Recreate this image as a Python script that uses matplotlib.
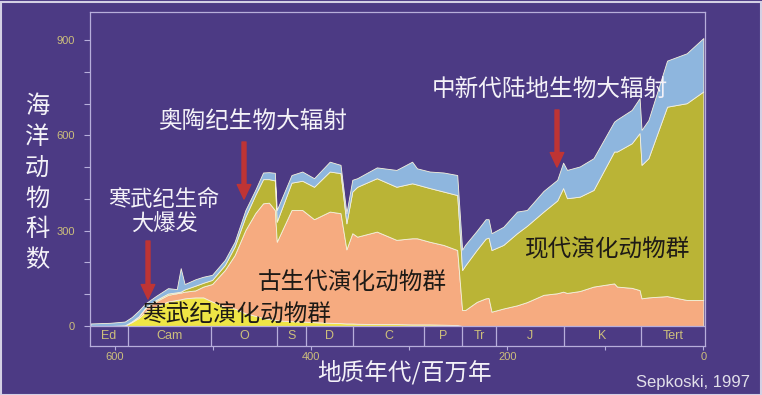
import numpy as np
import matplotlib
matplotlib.use('Agg')
import matplotlib.pyplot as plt
from matplotlib.patches import Rectangle

plt.rcParams['font.family'] = ['Liberation Sans', 'Noto Sans CJK SC', 'DejaVu Sans']
cjk = ['Noto Sans CJK SC', 'DejaVu Sans']

# age (Myr before present) and number of marine families per fauna
age = [625, 605, 590, 583, 576, 569, 558, 546, 537, 533, 529, 518, 510, 501,
       488, 478, 467, 457, 449, 443, 437, 435, 420, 409, 397, 381, 370, 364,
       358, 353, 333, 313, 297, 292, 279, 265, 251, 246, 243, 231, 222, 219,
       216, 204, 190, 180, 163, 149, 143, 139, 126, 112, 91, 88, 73, 65, 63,
       56, 37, 17, 0]
cambrian = [0, 0, 2, 12, 25, 45, 62, 77, 82, 84, 87, 90, 90, 77,
            61, 55, 40, 32, 25, 22, 20, 18, 15, 14, 12, 10, 9, 8,
            8, 7, 6, 6, 5, 5, 5, 4, 3, 0, 0, 0, 0, 0,
            0, 0, 0, 0, 0, 0, 0, 0, 0, 0, 0, 0, 0, 0, 0,
            0, 0, 0, 0]
paleozoic = [0, 0, 0, 2, 5, 11, 16, 21, 21, 21, 21, 22, 34, 55,
             115, 168, 262, 323, 361, 366, 345, 247, 350, 351, 324, 350, 346, 233,
             284, 274, 291, 265, 271, 271, 260, 251, 236, 50, 50, 76, 87, 88,
             45, 55, 65, 75, 98, 103, 108, 104, 110, 124, 134, 124, 120, 113, 87,
             90, 94, 82, 82]
modern = [0, 0, 0, 0, 0, 2, 4, 4, 3, 3, 7, 15, 12, 13,
          16, 27, 42, 57, 76, 74, 93, 63, 86, 92, 102, 126, 126, 82,
          131, 157, 168, 167, 173, 169, 169, 168, 173, 126, 140, 164, 188, 190,
          194, 200, 227, 240, 262, 292, 326, 298, 297, 304, 415, 425, 455, 494, 420,
          438, 596, 619, 656]
other = [8, 10, 12, 14, 18, 13, 13, 17, 10, 74, 17, 20, 19, 16,
         16, 15, 21, 16, 21, 22, 24, 37, 24, 29, 27, 31, 26, 32,
         37, 27, 34, 53, 68, 51, 52, 60, 63, 64, 65, 60, 61, 58,
         53, 57, 68, 50, 65, 65, 80, 89, 95, 100, 94, 101, 105, 110, 110,
         120, 145, 157, 168]

periods = ['Ed', 'Cam', 'O', 'S', 'D', 'C', 'P', 'Tr', 'J', 'K', 'Tert']
period_edges = [625.5, 587, 502, 435, 405, 357, 285, 246, 211, 142, 64, -1.7]

bg = '#4c3a84'
line_c = '#b7aedb'
khaki = '#cdbf7c'
fauna_colors = ['#efe545', '#f6ab80', '#bab436', '#8eb6de']

W, H = 762, 395
fig = plt.figure(figsize=(W / 100, H / 100), dpi=100, facecolor=bg)
ax = fig.add_axes([90 / W, 1 - 346 / H, 615 / W, 334 / H])
ax.set_facecolor(bg)

ax.stackplot(age, cambrian, paleozoic, modern, other, colors=fauna_colors,
             edgecolor='#f6f2dc', linewidth=0.6)

ax.set_xlim(period_edges[0], period_edges[-1])
ax.set_ylim(-63, 988)

# period band below the curves
ax.axhline(0, color=line_c, lw=0.9)
ax.vlines(period_edges[1:-1], -63, 0, color=line_c, lw=0.9)
for i, name in enumerate(periods):
    mid = (period_edges[i] + period_edges[i + 1]) / 2
    ax.text(mid, -31, name, ha='center', va='center', color=khaki, fontsize=9)

ax.set_yticks([0, 300, 600, 900])
ax.set_yticks(np.arange(0, 1000, 100), minor=True)
ax.set_xticks([600, 400, 200, 0])
ax.set_xticks([500, 300, 100], minor=True)
ax.tick_params(axis='y', which='both', length=4, width=0.8, color=line_c,
               labelcolor=khaki, labelsize=8, pad=7)
ax.tick_params(axis='x', which='both', length=3, width=0.8, color=line_c,
               labelcolor=khaki, labelsize=8, pad=1.5)
for s in ax.spines.values():
    s.set_color(line_c)
    s.set_linewidth(0.9)


def ft(x, y, s, **kw):
    fig.text(x / W, 1 - y / H, s, ha='center', va='center', **kw)


# red arrows
def arrow(x, y0, y1):
    ax.annotate('', xy=(x / W, 1 - y1 / H), xytext=(x / W, 1 - y0 / H),
                xycoords='figure fraction', textcoords='figure fraction',
                arrowprops=dict(arrowstyle='simple,head_width=0.75,head_length=0.8,tail_width=0.22',
                                color='#bf3434', mutation_scale=13, shrinkA=0, shrinkB=0))


arrow(148, 241, 299)
arrow(244, 142, 199)
arrow(557, 110, 167)

white = '#f4f2f8'
ft(164, 200, '寒武纪生命', color=white, fontsize=16, family=cjk)
ft(164, 223, '大爆发', color=white, fontsize=16, family=cjk)
ft(253, 121, '奥陶纪生物大辐射', color=white, fontsize=17, family=cjk)
ft(550, 89, '中新代陆地生物大辐射', color=white, fontsize=17, family=cjk)

dark = '#1e1a16'
ft(237, 315, '寒武纪演化动物群', color=dark, fontsize=17, family=cjk)
ft(352, 282, '古生代演化动物群', color=dark, fontsize=17, family=cjk)
ft(608, 250, '现代演化动物群', color=dark, fontsize=17, family=cjk)

ft(405, 372, '地质年代/百万年', color=white, fontsize=17, family=cjk)
ft(37, 183, '\n'.join('海洋动物科数'), color=white, fontsize=17.5, family=cjk,
   linespacing=1.25)
fig.text(750 / W, 1 - 382 / H, 'Sepkoski, 1997', ha='right', va='center',
         color='#e2e0ea', fontsize=12)

fig.patches.append(Rectangle((0.5 / W, 0.5 / H), (W - 1.5) / W, (H - 2) / H,
                             transform=fig.transFigure, fill=False,
                             edgecolor='#d4d0e4', lw=1.5))

fig.savefig('out.png', dpi=100, facecolor=bg)
